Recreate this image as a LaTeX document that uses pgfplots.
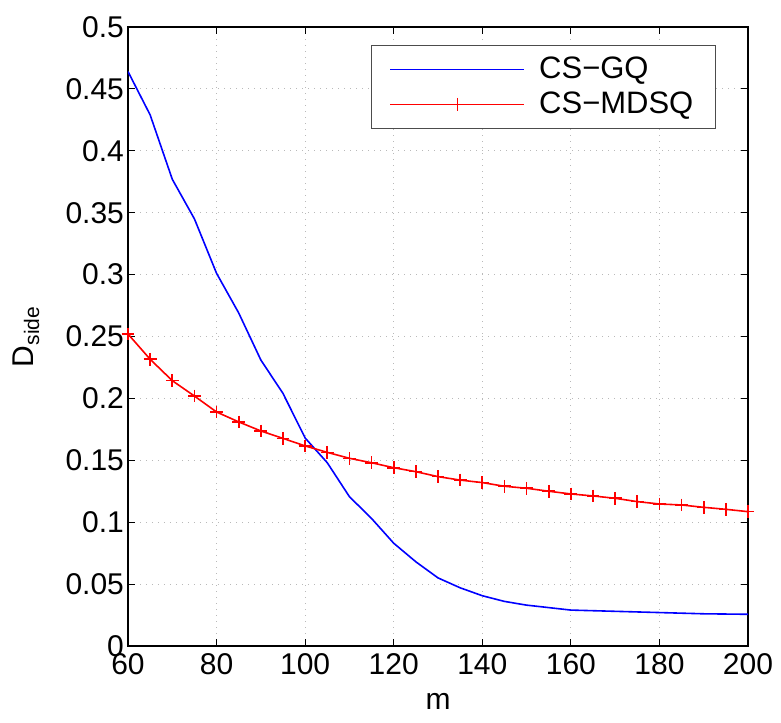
\documentclass[border=0pt]{standalone}
\usepackage{fontspec}
\setmainfont{Liberation Sans}
\usepackage{pgfplots}
\pgfplotsset{compat=1.18}
\begin{document}
\begin{tikzpicture}
\begin{axis}[
  scale only axis,
  width=310pt, height=309.5pt,
  xmin=60, xmax=200, ymin=0, ymax=0.5,
  xtick={60,80,100,120,140,160,180,200},
  ytick={0,0.05,0.1,0.15,0.2,0.25,0.3,0.35,0.4,0.45,0.5},
  yticklabels={0,0.05,0.1,0.15,0.2,0.25,0.3,0.35,0.4,0.45,0.5},
  /pgf/number format/assume math mode=true,
  font=\fontsize{15}{18}\selectfont,
  tick align=inside,
  major tick length=3.5pt,
  tick style={black, line width=0.5pt},
  axis line style={black, line width=0.6pt},
  grid=major,
  grid style={gray!55, line width=0.4pt, dash pattern=on 0.5pt off 2.5pt},
  xlabel={m},
  ylabel={D\textsubscript{side}},
  xlabel style={at={(axis description cs:0.5,-0.103)}, anchor=base},
  ylabel style={at={(axis description cs:-0.152,0.5)}, anchor=base, rotate=0},
  xticklabel style={yshift=-0.5pt},
  yticklabel style={xshift=1.5pt},
  legend style={at={(0.948,0.971)}, anchor=north east, draw=black!70,
    font=\fontsize{15.5}{18}\selectfont, inner xsep=9pt, inner ysep=4pt, row sep=1pt, column sep=5pt},
  legend cell align=left,
  legend image code/.code={\draw[line width=0.8pt, mark repeat=2, mark phase=2, #1] plot coordinates {(0pt,0pt) (33.5pt,0pt) (67pt,0pt)};},
]
\addplot[draw=blue, color=blue, line width=0.8pt, mark=none] coordinates {
(60,0.464) (65,0.429) (70,0.377) (75,0.345) (80,0.301) (85,0.269) (90,0.231) (95,0.204)
(100,0.168) (105,0.148) (110,0.1206) (115,0.103) (120,0.083) (125,0.068) (130,0.055)
(135,0.047) (140,0.0406) (145,0.036) (150,0.033) (155,0.031) (160,0.029) (165,0.0285)
(170,0.028) (175,0.0275) (180,0.027) (185,0.0265) (190,0.026) (195,0.0258) (200,0.0256)
};
\addlegendentry{CS−GQ}
\addplot[color=red, line width=0.8pt, mark=+, mark size=3.2pt, mark options={line width=0.8pt}] coordinates {
(60,0.252) (65,0.2316) (70,0.2143) (75,0.2019) (80,0.189) (85,0.181) (90,0.1737) (95,0.1677)
(100,0.1616) (105,0.1564) (110,0.1516) (115,0.148) (120,0.144) (125,0.1408) (130,0.1368)
(135,0.134) (140,0.132) (145,0.129) (150,0.1274) (155,0.125) (160,0.1228) (165,0.1212)
(170,0.1193) (175,0.1166) (180,0.1147) (185,0.1139) (190,0.112) (195,0.1104) (200,0.1085)
};
\addlegendentry{CS−MDSQ}
\end{axis}
\pgfresetboundingbox
\path[use as bounding box] ([xshift=-64pt,yshift=-38.5pt]current axis.south west) rectangle ([xshift=16.5pt,yshift=13.5pt]current axis.north east);
\end{tikzpicture}
\end{document}
